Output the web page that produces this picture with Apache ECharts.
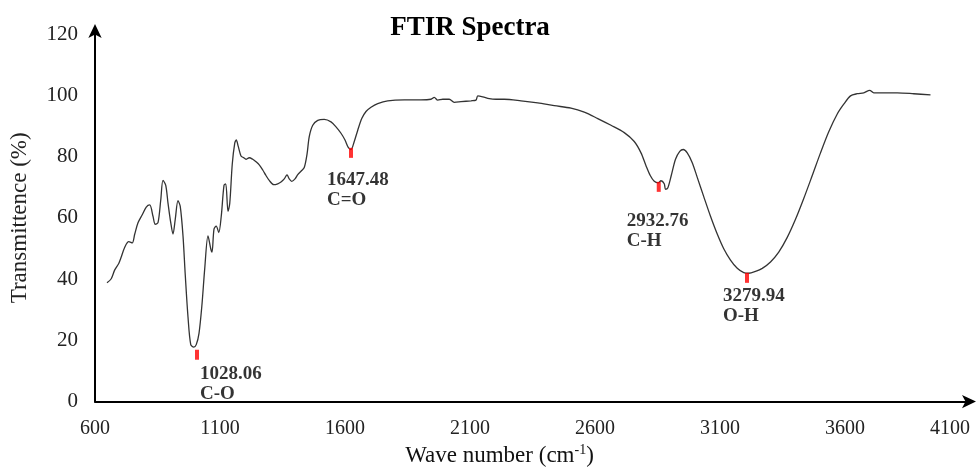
<!DOCTYPE html>
<html>
<head>
<meta charset="utf-8">
<script src="https://cdn.jsdelivr.net/npm/echarts@6/dist/echarts.min.js"></script>
<style>html,body{margin:0;padding:0;background:#fff}#c{width:979px;height:472px}</style>
</head>
<body>
<div id="c"></div>
<script>
const wavenumber = [648,665,679,695,705,719,735,749,759,772,789,805,819,832,841,852,863,872,883,892,903,912,921,932,941,952,961,972,983,995,1005,1016,1028,1039,1052,1063,1068,1076,1085,1095,1105,1116,1123,1132,1139,1149,1159,1165,
1173,1184,1195,1204,1217,1231,1244,1257,1271,1284,1297,1315,1331,1344,1357,1368,1377,1387,1400,1411,1424,1437,1448,1457,1471,1491,1517,1544,1564,1584,1600,1613,1624,1637,1651,1667,1684,1704,1731,
1771,1837,1904,1944,1957,1971,1991,2017,2037,2064,2104,2124,2131,2151,2177,2204,2237,2304,2371,2437,2504,2557,2611,2664,2717,2757,2784,2804,2821,2837,2853,2864,2877,
2882,2891,2905,2922,2939,2953,2969,2989,3009,3035,3062,3089,3115,3142,3169,3195,3215,3242,3269,3302,3335,3369,3402,3435,3469,3502,3535,3569,3595,3622,3649,3675,3699,3715,3755,3809,3875,3942];
const transmittance = [38.8,40.1,43,45.1,47.2,50.4,52.2,51.8,54.7,58.4,61,63.5,64.2,60.5,57.9,58.4,65.8,72.2,70.6,64.8,58.4,54.7,59.5,65.6,63.7,54.1,41.4,27.6,18.6,17.8,18.6,22.3,31.8,43.5,54.1,49.9,48.8,56.3,57.3,55.2,60.5,70.6,71.1,62.1,64.7,77.5,84.4,85.4,
83.3,80.2,79.6,79.1,79.6,79.1,78.3,77.3,75.6,73.8,72.2,70.8,71.1,71.7,72.7,74,72.7,71.9,72.7,74.1,75.2,76.4,80.7,86.5,90.2,91.8,92.1,91.3,89.7,87.6,85.4,83,82.3,84.9,88.6,92.4,94.7,96.1,97.3,
98.2,98.5,98.5,98.7,99.3,98.4,98.7,98.7,97.7,97.9,98.2,98.4,99.8,99.5,98.9,98.7,98.7,98.2,97.5,96.6,95.8,94.5,92.4,90.2,87.8,84.9,81.2,77,73.8,71.9,71.4,72.1,71.1,
69.3,69.7,73.8,79.1,81.7,82.3,81.2,78,73.2,66.9,60.5,54.7,49.9,46.2,43.5,42.1,41.9,42.5,43.5,45.6,48.8,53.6,59.5,66.3,73.8,81.2,88.1,93.9,97.1,99.8,100.5,100.8,101.6,100.8,100.8,100.8,100.5,100.1];

const peakX = [1008,1624,2855,3208];
const peakY = [15.3,81.2,70.1,40.4];
const peakValue = ['1028.06','1647.48','2932.76','3279.94'];
const peakGroup = ['C-O','C=O','C-H','O-H'];

const xTicks = [600,1100,1600,2100,2600,3100,3600,4100];
const yTicks = [0,20,40,60,80,100,120];

// label placement (styling), relative to marker top-left
const labelOffsets = [[5,14],[-22,22],[-30,29],[-22,13]];

const serif = '"Liberation Serif","Times New Roman",serif';
const chart = echarts.init(document.getElementById('c'));
chart.setOption({
  animation:false,
  backgroundColor:'#fff',
  title:{text:'FTIR Spectra',left:465,top:10,textAlign:'center',
    textStyle:{fontFamily:serif,fontWeight:'bold',fontSize:27,color:'#000'}},
  grid:{left:93,right:9,top:34,bottom:60,containLabel:false},
  xAxis:{type:'value',min:xTicks[0],max:xTicks[xTicks.length-1],interval:500,
    name:'Wave number (cm{sup|-1})',nameLocation:'middle',nameGap:41,
    nameTextStyle:{fontFamily:serif,fontSize:23,color:'#111',padding:[0,66,0,0],
      rich:{sup:{fontFamily:serif,fontSize:14,verticalAlign:'top',padding:[0,0,10,0],color:'#111'}}},
    axisLine:{show:true,lineStyle:{color:'#000',width:2},symbol:['none','arrow'],symbolSize:[10,14],symbolOffset:[0,6]},
    axisTick:{show:false},splitLine:{show:false},
    axisLabel:{fontFamily:serif,fontSize:20,color:'#222',margin:17,alignMaxLabel:'right',formatter:v=>String(v)}},
  yAxis:{type:'value',min:yTicks[0],max:yTicks[yTicks.length-1],interval:20,
    name:'Transmittence (%)',nameLocation:'middle',nameGap:64,nameRotate:90,
    nameTextStyle:{fontFamily:serif,fontSize:23,color:'#222'},
    axisLine:{show:true,lineStyle:{color:'#000',width:2},symbol:['none','arrow'],symbolSize:[10,14],symbolOffset:[0,10]},
    axisTick:{show:false},splitLine:{show:false},
    axisLabel:{fontFamily:serif,fontSize:21,color:'#222',margin:17,formatter:v=>String(v)}},
  series:[
    {type:'line',data:wavenumber.map((x,i)=>[x,transmittance[i]]),smooth:0.3,showSymbol:false,
      lineStyle:{color:'#333',width:1.3},z:2},
    {type:'scatter',data:peakX.map((x,i)=>({value:[x,peakY[i]],
        label:{position:labelOffsets[i]}})),
      symbol:'rect',symbolSize:[4,10],itemStyle:{color:'#ff0000'},z:3,
      label:{show:true,align:'left',verticalAlign:'top',fontFamily:serif,fontWeight:'bold',fontSize:19,color:'#000',lineHeight:20,
        formatter:p=>peakValue[p.dataIndex]+'\n'+peakGroup[p.dataIndex]}}
  ]
});
</script>
</body>
</html>
